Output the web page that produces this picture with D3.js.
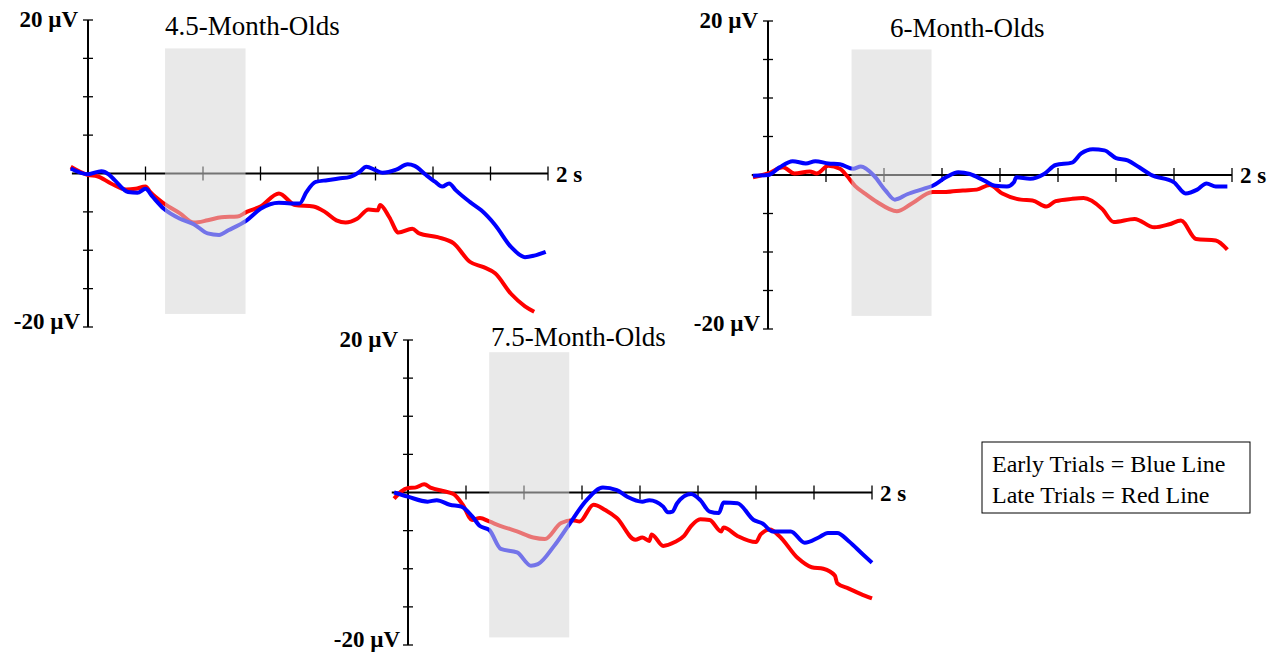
<!DOCTYPE html>
<html>
<head>
<meta charset="utf-8">
<script src="https://cdn.jsdelivr.net/npm/d3@7"></script>
<style>
  html, body { margin: 0; padding: 0; background: #fff; }
  svg { display: block; }
</style>
</head>
<body>
<div id="chart"></div>
<script>
// ERP waveforms, [time (s), amplitude (µV)]
const blue45 = [[-0.075,0.65],[0,-0.1],[0.058,0.3],[0.09,-0.1],[0.116,-0.87],[0.174,-2.4],[0.215,-2.5],[0.25,-2],[0.28,-3],[0.33,-4.6],[0.4,-5.9],[0.46,-6.6],[0.52,-7.8],[0.57,-8],[0.61,-7.4],[0.69,-6.1],[0.75,-4.6],[0.83,-3.8],[0.88,-3.9],[0.92,-3.9],[0.95,-2.4],[0.99,-1.1],[1.04,-0.87],[1.09,-0.65],[1.14,-0.43],[1.18,0.2],[1.21,0.87],[1.25,0.43],[1.28,0.1],[1.34,0.5],[1.39,1.2],[1.42,1.0],[1.47,-0.2],[1.51,-1.1],[1.54,-1.7],[1.57,-1.3],[1.6,-2.2],[1.66,-3.7],[1.71,-4.8],[1.77,-6.7],[1.84,-9.6],[1.9,-10.9],[1.94,-10.7],[1.99,-10.2]];
const red45 = [[-0.075,0.87],[0,-0.2],[0.04,-0.35],[0.1,-1.3],[0.166,-2.1],[0.207,-2.0],[0.25,-1.7],[0.27,-2.4],[0.33,-3.9],[0.4,-5.2],[0.46,-6.4],[0.52,-6.1],[0.58,-5.7],[0.65,-5.6],[0.69,-5.0],[0.75,-4.3],[0.83,-2.6],[0.9,-4.1],[0.98,-4.3],[1.03,-5.0],[1.08,-6.1],[1.12,-6.4],[1.17,-5.9],[1.22,-4.7],[1.26,-4.8],[1.27,-4.1],[1.31,-5.7],[1.35,-7.7],[1.41,-7.2],[1.44,-7.8],[1.52,-8.3],[1.59,-9.1],[1.66,-11.5],[1.72,-12.2],[1.77,-13.0],[1.84,-15.7],[1.9,-17.3],[1.94,-18.0]];

const blue6 = [[-0.065,-0.1],[0,0],[0.05,1.0],[0.106,1.8],[0.163,1.5],[0.204,1.8],[0.26,1.5],[0.31,1.4],[0.367,0.8],[0.4,1.1],[0.457,-0.1],[0.506,-2.0],[0.547,-3.2],[0.6,-2.5],[0.67,-1.8],[0.71,-1.4],[0.767,-0.3],[0.82,0.35],[0.87,0.13],[0.93,-0.7],[0.98,-1.4],[1.03,-1.5],[1.06,-0.95],[1.07,-0.3],[1.13,-0.5],[1.19,0.13],[1.24,1.3],[1.31,1.6],[1.35,2.8],[1.4,3.35],[1.45,3.2],[1.5,2.2],[1.55,1.9],[1.6,1.0],[1.65,0.04],[1.75,-0.95],[1.8,-2.4],[1.85,-1.9],[1.89,-1.1],[1.93,-1.5],[1.98,-1.5]];
const red6 = [[-0.065,-0.3],[0,0.2],[0.065,1.0],[0.114,0.2],[0.18,0.47],[0.21,0.2],[0.26,1.2],[0.31,0.8],[0.34,-0.1],[0.375,-1.4],[0.42,-2.45],[0.47,-3.5],[0.555,-4.7],[0.62,-3.7],[0.71,-2.2],[0.767,-2.2],[0.84,-2.0],[0.9,-1.9],[0.955,-1.3],[1.01,-2.4],[1.09,-3.2],[1.14,-3.3],[1.2,-4.1],[1.24,-3.4],[1.31,-3.1],[1.36,-3.0],[1.44,-4.4],[1.49,-6.1],[1.58,-5.7],[1.665,-6.8],[1.73,-6.4],[1.78,-5.9],[1.845,-8.3],[1.93,-8.5],[1.98,-9.7]];

const blue75 = [[-0.06,0],[0,-0.55],[0.085,-1.2],[0.124,-1.0],[0.18,-1.6],[0.23,-1.85],[0.276,-3.1],[0.31,-4.4],[0.35,-4.9],[0.4,-7.4],[0.47,-7.85],[0.53,-9.6],[0.56,-9.4],[0.63,-7.0],[0.69,-4.4],[0.77,-1.0],[0.84,0.64],[0.9,0.3],[0.945,-0.55],[1.01,-1.2],[1.04,-1.0],[1.1,-1.85],[1.12,-2.6],[1.14,-2.5],[1.16,-1.4],[1.22,-0.2],[1.26,-1.0],[1.3,-2.5],[1.34,-2.7],[1.36,-1.3],[1.42,-1.4],[1.49,-3.6],[1.53,-4.1],[1.57,-5.1],[1.65,-5.1],[1.71,-6.6],[1.77,-5.9],[1.81,-5.3],[1.85,-5.3],[1.9,-6.4],[1.96,-8.1],[2.0,-9.2]];
const red75 = [[-0.06,-0.8],[0,0.6],[0.03,0.64],[0.07,1.07],[0.1,0.6],[0.15,0.2],[0.196,-0.2],[0.236,-1.6],[0.276,-3.6],[0.31,-3.35],[0.35,-3.8],[0.4,-4.4],[0.47,-5.1],[0.54,-5.9],[0.59,-6.1],[0.66,-4.0],[0.71,-3.65],[0.74,-3.8],[0.8,-1.6],[0.85,-2.3],[0.9,-3.35],[0.98,-6.2],[1.01,-5.9],[1.04,-6.35],[1.05,-5.5],[1.1,-7.0],[1.15,-6.5],[1.19,-5.7],[1.22,-4.4],[1.26,-3.5],[1.3,-3.6],[1.35,-5.1],[1.36,-4.6],[1.42,-5.7],[1.5,-6.5],[1.52,-5.5],[1.56,-4.85],[1.6,-5.7],[1.68,-8.6],[1.74,-9.8],[1.79,-10.0],[1.84,-10.9],[1.85,-11.9],[1.9,-12.6],[1.95,-13.3],[2.0,-13.9]];

// shaded analysis window: [start s, end s, top µV, bottom µV]
const window45 = [0.335, 0.685, 16.3, -18.3];
const window6 = [0.36, 0.705, 16.3, -18.3];
const window75 = [0.35, 0.695, 18.4, -19.0];

const titles = ['4.5-Month-Olds', '6-Month-Olds', '7.5-Month-Olds'];
const xTicks = [0.25, 0.5, 0.75, 1, 1.25, 1.5, 1.75, 2];
const yTicks = [-20, -15, -10, -5, 5, 10, 15, 20];
const legendLines = ['Early Trials = Blue Line', 'Late Trials = Red Line'];

const width = 1271, height = 652;
const serif = '"Liberation Serif", "Times New Roman", serif';

const svg = d3.select('#chart').append('svg')
    .attr('width', width)
    .attr('height', height)
    .attr('font-family', serif);

// layout of each small plot (pixels)
const panels = [
    {title: titles[0], blue: blue45, red: red45, win: window45, x0: 88, x2: 548, top: 20, bottom: 327, titleT: 0.335, titleY: 35},
    {title: titles[1], blue: blue6, red: red6, win: window6, x0: 768, x2: 1232, top: 21, bottom: 329, titleT: 0.526, titleY: 37},
    {title: titles[2], blue: blue75, red: red75, win: window75, x0: 408, x2: 872, top: 340, bottom: 645, titleT: 0.358, titleY: 346},
];

panels.forEach(p => {
    const x = d3.scaleLinear().domain([0, 2]).range([p.x0, p.x2]);
    const y = d3.scaleLinear().domain([-20, 20]).range([p.bottom, p.top]);
    const g = svg.append('g');

    // x axis line and ticks
    g.append('line')
        .attr('x1', x(-0.07)).attr('x2', x(2))
        .attr('y1', y(0)).attr('y2', y(0))
        .attr('stroke', 'black').attr('stroke-width', 2);
    g.selectAll('line.xt').data(xTicks).enter().append('line')
        .attr('class', 'xt')
        .attr('x1', d => x(d)).attr('x2', d => x(d))
        .attr('y1', y(0) - 7).attr('y2', y(0) + 7)
        .attr('stroke', 'black').attr('stroke-width', 1.3);

    // y axis line and ticks
    g.append('line')
        .attr('x1', x(0)).attr('x2', x(0))
        .attr('y1', y(20)).attr('y2', y(-20))
        .attr('stroke', 'black').attr('stroke-width', 2);
    g.selectAll('line.yt').data(yTicks).enter().append('line')
        .attr('class', 'yt')
        .attr('x1', x(0) - 5).attr('x2', x(0) + 5)
        .attr('y1', d => y(d)).attr('y2', d => y(d))
        .attr('stroke', 'black').attr('stroke-width', 1.3);

    // axis labels
    g.append('text')
        .attr('x', x(0) - 10).attr('y', y(20) + 7)
        .attr('text-anchor', 'end')
        .attr('font-size', 23).attr('font-weight', 'bold')
        .text('20 µV');
    g.append('text')
        .attr('x', x(0) - 8).attr('y', y(-20) + 2)
        .attr('text-anchor', 'end')
        .attr('font-size', 23).attr('font-weight', 'bold')
        .text('-20 µV');
    g.append('text')
        .attr('x', x(2) + 8).attr('y', y(0) + 8)
        .attr('font-size', 23).attr('font-weight', 'bold')
        .text('2 s');

    // title
    g.append('text')
        .attr('x', x(p.titleT)).attr('y', p.titleY)
        .attr('font-size', 27)
        .text(p.title);

    // waveforms
    const line = d3.line()
        .x(d => x(d[0]))
        .y(d => y(d[1]))
        .curve(d3.curveMonotoneX);
    g.append('path')
        .datum(p.red)
        .attr('d', line)
        .attr('fill', 'none')
        .attr('stroke', '#ff0000')
        .attr('stroke-width', 4)
        .attr('stroke-linejoin', 'round');
    g.append('path')
        .datum(p.blue)
        .attr('d', line)
        .attr('fill', 'none')
        .attr('stroke', '#0000ff')
        .attr('stroke-width', 4)
        .attr('stroke-linejoin', 'round');

    // translucent analysis window over the lines
    g.append('rect')
        .attr('x', x(p.win[0]))
        .attr('y', y(p.win[2]))
        .attr('width', x(p.win[1]) - x(p.win[0]))
        .attr('height', y(p.win[3]) - y(p.win[2]))
        .attr('fill', '#d7d7d7')
        .attr('fill-opacity', 0.54);
});

// legend box
const legend = svg.append('g').attr('transform', 'translate(982, 442)');
legend.append('rect')
    .attr('width', 268).attr('height', 71)
    .attr('fill', 'white')
    .attr('stroke', 'black').attr('stroke-width', 1);
legend.selectAll('text').data(legendLines).enter().append('text')
    .attr('x', 10)
    .attr('y', (d, i) => 30 + i * 31)
    .attr('font-size', 24)
    .text(d => d);
</script>
</body>
</html>
